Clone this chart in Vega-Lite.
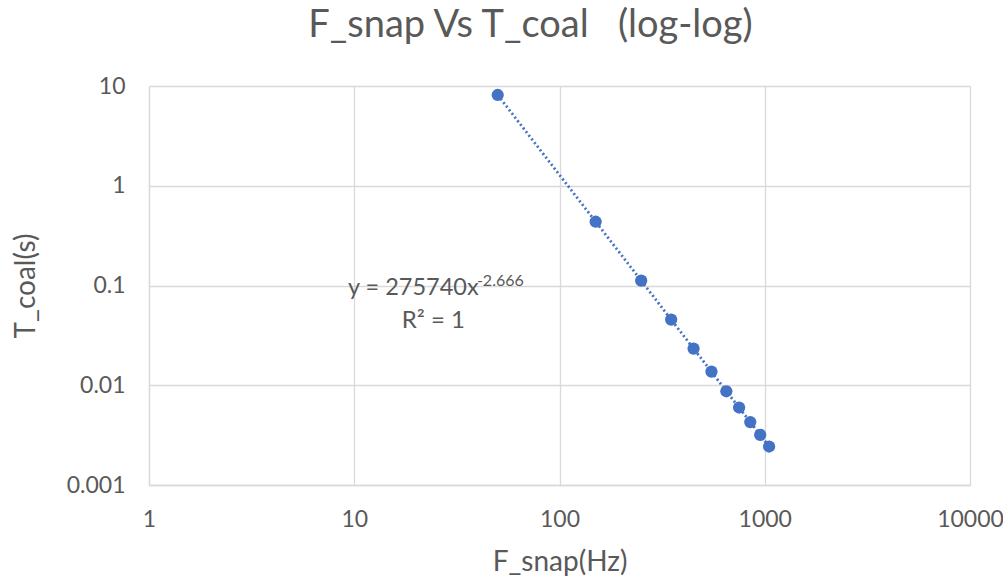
{
  "$schema": "https://vega.github.io/schema/vega-lite/v6.json",
  "width": 821,
  "height": 399,
  "autosize": {"type": "none"},
  "padding": {"left": 149, "top": 86, "right": 33, "bottom": 96},
  "background": "white",
  "title": {
    "text": "F_snap Vs T_coal\u00a0\u00a0\u00a0(log-log)",
    "font": "Lato",
    "fontSize": 38,
    "fontWeight": "normal",
    "color": "#595959",
    "anchor": "middle",
    "dx": -29,
    "offset": 30
  },
  "config": {
    "view": {"stroke": null},
    "axis": {
      "grid": true,
      "gridColor": "#d9d9d9",
      "gridWidth": 1.3,
      "domainColor": "#d9d9d9",
      "domainWidth": 1.3,
      "ticks": false,
      "labelFlush": false,
      "labelFont": "Lato",
      "labelColor": "#595959",
      "labelFontSize": 23,
      "titleFont": "Lato",
      "titleColor": "#595959",
      "titleFontSize": 28,
      "titleFontWeight": "normal"
    }
  },
  "data": {
    "values": [
      {"F_snap": 50, "T_coal": 8.13},
      {"F_snap": 150, "T_coal": 0.436},
      {"F_snap": 250, "T_coal": 0.112},
      {"F_snap": 350, "T_coal": 0.0455},
      {"F_snap": 450, "T_coal": 0.0233},
      {"F_snap": 550, "T_coal": 0.0137},
      {"F_snap": 650, "T_coal": 0.0087},
      {"F_snap": 750, "T_coal": 0.00598},
      {"F_snap": 850, "T_coal": 0.00427},
      {"F_snap": 950, "T_coal": 0.00318},
      {"F_snap": 1050, "T_coal": 0.00243}
    ]
  },
  "layer": [
    {
      "mark": {"type": "line", "color": "#4472C4", "strokeWidth": 2.8, "strokeDash": [2, 2.6]},
      "encoding": {
        "x": {
          "field": "F_snap", "type": "quantitative",
          "scale": {"type": "log", "domain": [1, 10000]},
          "axis": {"values": [1, 10, 100, 1000, 10000], "format": "~g", "title": "F_snap(Hz)", "labelPadding": 23, "titlePadding": 17}
        },
        "y": {
          "field": "T_coal", "type": "quantitative",
          "scale": {"type": "log", "domain": [0.001, 10]},
          "axis": {"values": [0.001, 0.01, 0.1, 1, 10], "format": "~g", "title": "T_coal(s)", "labelPadding": 24, "titlePadding": 26}
        }
      }
    },
    {
      "mark": {"type": "circle", "size": 150, "color": "#4472C4", "opacity": 1},
      "encoding": {
        "x": {"field": "F_snap", "type": "quantitative"},
        "y": {"field": "T_coal", "type": "quantitative"}
      }
    },
    {
      "data": {
        "values": [
          {"x": 9.32, "y": 0.0803, "label": "y = 275740x"}
        ]
      },
      "mark": {"type": "text", "align": "left", "baseline": "alphabetic", "font": "Lato", "fontSize": 23.5, "color": "#595959"},
      "encoding": {
        "x": {"field": "x", "type": "quantitative"},
        "y": {"field": "y", "type": "quantitative"},
        "text": {"field": "label"}
      }
    },
    {
      "data": {
        "values": [
          {"x": 39.6, "y": 0.0989, "label": "-2.666"}
        ]
      },
      "mark": {"type": "text", "align": "left", "baseline": "alphabetic", "font": "Lato", "fontSize": 16, "color": "#595959"},
      "encoding": {
        "x": {"field": "x", "type": "quantitative"},
        "y": {"field": "y", "type": "quantitative"},
        "text": {"field": "label"}
      }
    },
    {
      "data": {
        "values": [
          {"x": 24.3, "y": 0.0375, "label": "R² = 1"}
        ]
      },
      "mark": {"type": "text", "align": "center", "baseline": "alphabetic", "font": "Lato", "fontSize": 24, "color": "#595959"},
      "encoding": {
        "x": {"field": "x", "type": "quantitative"},
        "y": {"field": "y", "type": "quantitative"},
        "text": {"field": "label"}
      }
    }
  ]
}
